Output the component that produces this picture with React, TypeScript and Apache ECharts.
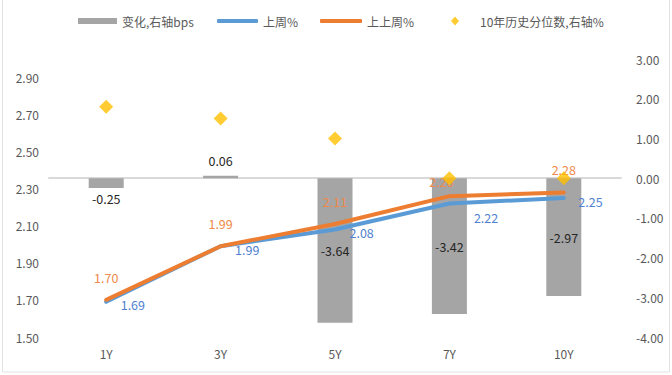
import React, { useEffect, useRef } from "react";
import * as echarts from "echarts";

const categories = ["1Y", "3Y", "5Y", "7Y", "10Y"];
const changeBps = [-0.25, 0.06, -3.64, -3.42, -2.97];
const lastWeek = [1.69, 1.99, 2.08, 2.22, 2.25];
const twoWeeksAgo = [1.7, 1.99, 2.11, 2.26, 2.28];
const percentile10y = [1.8, 1.5, 1.0, 0.0, 0.0];
const leftTicks = ["1.50", "1.70", "1.90", "2.10", "2.30", "2.50", "2.70", "2.90"];
const rightTicks = ["-4.00", "-3.00", "-2.00", "-1.00", "0.00", "1.00", "2.00", "3.00"];

const names = ["变化,右轴bps", "上周%", "上上周%", "10年历史分位数,右轴%"];

const FONT = "'Noto Sans CJK SC', 'Noto Sans', sans-serif";
const GREY = "#a5a5a5";
const BLUE = "#5b9bd5";
const ORANGE = "#ed7d31";
const GOLD = "#ffc000";

export default function App() {
  const ref = useRef<HTMLDivElement>(null);
  useEffect(() => {
    if (!ref.current) return;
    const chart = echarts.init(ref.current, null, { renderer: "svg" });
    const legendBase = {
      top: 15,
      padding: 0,
      textStyle: { color: "#595959", fontSize: 12, fontFamily: FONT },
      itemGap: 5,
    };
    chart.setOption({
      animation: false,
      textStyle: { fontFamily: FONT },
      graphic: [
        {
          type: "rect",
          shape: { x: 2.5, y: -5, width: 667, height: 377 },
          style: { fill: "none", stroke: "#e3e3e3", lineWidth: 1 },
          silent: true,
        },
      ],
      legend: [
        { ...legendBase, left: 78, data: [{ name: names[0], icon: "rect" }], itemWidth: 39, itemHeight: 6 },
        { ...legendBase, left: 217, data: [{ name: names[1], icon: "roundRect" }], itemWidth: 41, itemHeight: 4 },
        { ...legendBase, left: 320, data: [{ name: names[2], icon: "roundRect" }], itemWidth: 42, itemHeight: 4 },
        {
          ...legendBase,
          left: 451,
          data: [{ name: names[3], icon: "diamond" }],
          itemWidth: 8,
          itemHeight: 9,
          textStyle: { ...legendBase.textStyle, padding: [0, 0, 0, 16] },
        },
      ],
      grid: { left: 49, right: 51, top: 59, bottom: 38 },
      xAxis: {
        type: "category",
        data: categories,
        axisLine: { lineStyle: { color: "#d9d9d9", width: 2 } },
        axisTick: { show: false },
        axisLabel: { color: "#595959", fontSize: 12, margin: 10, fontFamily: FONT },
      },
      yAxis: [
        { type: "value", min: 1.5, max: 3.0, show: false, splitLine: { show: false } },
        {
          type: "value",
          position: "right",
          min: -4,
          max: 3,
          interval: 1,
          splitLine: { show: false },
          axisLine: { show: false },
          axisTick: { show: false },
          axisLabel: {
            color: "#595959",
            fontSize: 12,
            margin: 15,
            fontFamily: FONT,
            formatter: (v: number) => rightTicks[Math.round(v) + 4] ?? "",
          },
        },
        {
          type: "value",
          position: "left",
          min: 0,
          max: 7.5,
          interval: 1,
          splitLine: { show: false },
          axisLine: { show: false },
          axisTick: { show: false },
          axisLabel: {
            color: "#595959",
            fontSize: 12,
            margin: 10,
            fontFamily: FONT,
            formatter: (v: number) => (Number.isInteger(v) ? leftTicks[v] ?? "" : ""),
          },
        },
      ],
      series: [
        {
          name: names[0],
          type: "bar",
          yAxisIndex: 1,
          barWidth: 35,
          itemStyle: { color: GREY },
          data: changeBps.map((v) => ({
            value: v,
            label: {
              show: true,
              position: Math.abs(v) < 1 ? (v < 0 ? "bottom" : "top") : "inside",
              distance: Math.abs(v) < 1 ? (v < 0 ? 4 : 9) : 5,
              color: "#262626",
              fontSize: 12.5,
              fontFamily: FONT,
              formatter: (p: any) => Number(p.value).toFixed(2),
            },
          })),
        },
        {
          name: names[1],
          type: "line",
          yAxisIndex: 0,
          symbol: "circle",
          symbolSize: 1,
          itemStyle: { color: BLUE },
          lineStyle: { color: BLUE, width: 4, cap: "round" },
          data: lastWeek.map((v, i) => ({
            value: v,
            label: {
              show: true,
              position: "right",
              distance: 14,
              offset: i === 3 ? [10, 14] : [0, 3],
              color: "#4f81d0",
              fontSize: 12.5,
              fontFamily: FONT,
              formatter: (p: any) => Number(p.value).toFixed(2),
            },
          })),
        },
        {
          name: names[2],
          type: "line",
          yAxisIndex: 0,
          symbol: "circle",
          symbolSize: 1,
          itemStyle: { color: ORANGE },
          lineStyle: { color: ORANGE, width: 4, cap: "round" },
          data: twoWeeksAgo.map((v, i) => ({
            value: v,
            label: {
              show: true,
              position: "top",
              distance: i === 3 ? 8 : 16,
              offset: i === 3 ? [-8, 0] : [0, 0],
              color: "#f0894a",
              fontSize: 12.5,
              fontFamily: FONT,
              formatter: (p: any) => Number(p.value).toFixed(2),
            },
          })),
        },
        {
          name: names[3],
          type: "scatter",
          yAxisIndex: 1,
          symbol: "diamond",
          symbolSize: 14,
          itemStyle: { color: GOLD },
          z: 5,
          data: percentile10y,
        },
      ],
    });
    return () => chart.dispose();
  }, []);
  return (
    <div
      ref={ref}
      style={{ position: "fixed", left: 0, top: 0, width: 672, height: 375, background: "#fff" }}
    />
  );
}
